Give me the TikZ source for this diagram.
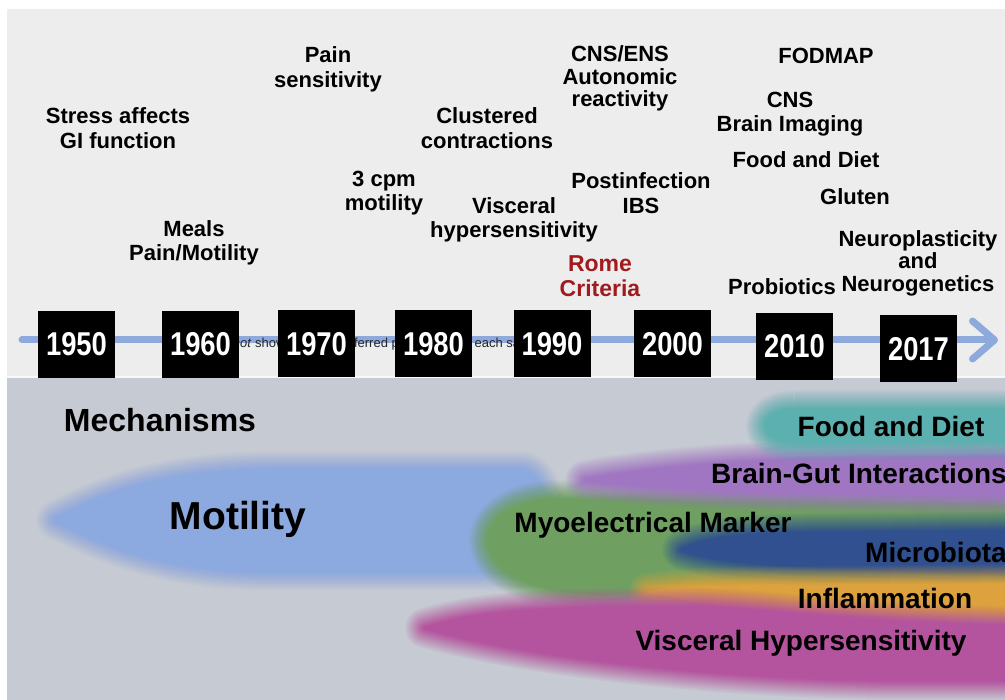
\documentclass[tikz,border=0pt]{standalone}
\usepackage{fontspec}
\setmainfont{Liberation Sans}
\newfontfamily\yearfont[FakeStretch=0.83]{Liberation Sans}
\usetikzlibrary{arrows.meta}

\definecolor{topbg}{HTML}{EDEDED}
\definecolor{lowbg}{HTML}{C6CAD3}
\definecolor{axisblue}{HTML}{8EAADC}
\definecolor{motblue}{HTML}{8CAAE0}
\definecolor{myogreen}{HTML}{6FA062}
\definecolor{bgpurple}{HTML}{A076C2}
\definecolor{foodteal}{HTML}{5DB0B0}
\definecolor{microblue}{HTML}{30508F}
\definecolor{inflorange}{HTML}{DDA23E}
\definecolor{vhmagenta}{HTML}{B5549E}
\definecolor{romered}{HTML}{A01A1E}

% Soft-edged band: 20 nested strokes whose opacities give a linear ramp
% over 20pt outside the outline, then the solid core.
\newcommand\softband[2]{%
  \foreach \w [count=\k] in {40,38,...,2}{%
    \pgfmathsetmacro\bandop{1/(21-\k)}%
    \draw[#1, line width=\w pt, opacity=\bandop, line join=round] #2;}%
  \fill[#1] #2;}

\tikzset{
  eventlbl/.style={font=\fontsize{22}{24.5}\selectfont\bfseries, align=center, text=black, inner sep=0pt},
  yearbox/.style={fill=black, text=white, minimum width=77pt, minimum height=67pt, inner sep=0pt,
                  font=\fontsize{33}{35}\selectfont\yearfont\bfseries},
  mechlbl/.style={font=\fontsize{28}{30}\selectfont\bfseries, text=black, inner sep=0pt},
  axisline/.style={axisblue, line width=7pt, line cap=round,
                   -{Straight Barb[length=22pt, width=38pt, round]}},
}

\begin{document}
\begin{tikzpicture}[x=1pt, y=-1pt]
\useasboundingbox (0,0) rectangle (1005,700);
\fill[white] (0,0) rectangle (1005,700);
\fill[topbg] (7,9) rectangle (1005,377);
\fill[lowbg] (7,377) rectangle (1005,700);
\draw[white!60!topbg, line width=1.5pt] (7,377) -- (1005,377);

% time axis
\coordinate (axis-start) at (22,340);
\coordinate (axis-end) at (998,340);
\draw[axisline] (axis-start) -- (axis-end);

\node[anchor=west, font=\fontsize{13}{14}\selectfont, text=black!85, inner sep=0pt] (sampletext)
  at (212.5,344) {Do \textit{not} showing their preferred proportions of each sample};

% decades
\node[yearbox] (y1950) at (76.5,344.5) {1950};
\node[yearbox] (y1960) at (200.5,344.5) {1960};
\node[yearbox] (y1970) at (316.5,344) {1970};
\node[yearbox] (y1980) at (433.5,344) {1980};
\node[yearbox] (y1990) at (552,344) {1990};
\node[yearbox] (y2000) at (672.5,344) {2000};
\node[yearbox] (y2010) at (794.5,346.5) {2010};
\node[yearbox] (y2017) at (918.5,349) {2017};

% milestones
\node[eventlbl] (stress) at (118,128) {Stress affects\\GI function};
\node[eventlbl] (meals) at (194,243) {Meals\\Pain/Motility};
\node[eventlbl] (pain) at (328,69.5) {Pain\\sensitivity};
\node[eventlbl] (cpm) at (384,193) {3 cpm\\motility};
\node[eventlbl] (clustered) at (487,128) {Clustered\\contractions};
\node[eventlbl] (visceral) at (514,220) {Visceral\\hypersensitivity};
\node[eventlbl, font=\fontsize{22}{22.5}\selectfont\bfseries] (cnsens) at (620,78.5) {CNS/ENS\\Autonomic\\reactivity};
\node[eventlbl] (postinf) at (641,193) {Postinfection\\IBS};
\node[eventlbl, text=romered, font=\fontsize{23}{25}\selectfont\bfseries] (rome) at (600,276.5) {Rome\\Criteria};
\node[eventlbl] (fodmap) at (826,56) {FODMAP};
\node[eventlbl] (cns) at (790,114) {CNS\\Brain Imaging};
\node[eventlbl] (food) at (806,160) {Food and Diet};
\node[eventlbl] (gluten) at (855,197) {Gluten};
\node[eventlbl, font=\fontsize{22}{22.5}\selectfont\bfseries] (neuro) at (918,263) {Neuroplasticity\\and\\Neurogenetics};
\node[eventlbl] (probiotics) at (782,287) {Probiotics};

% mechanisms bands
\begin{scope}
\clip (7,377) rectangle (1005,700);
\softband{motblue}{(56,520) .. controls (115,490) and (170,472) .. (270,471) -- (520,471) .. controls (555,471) and (555,571) .. (520,571) -- (270,571) .. controls (170,570) and (115,549) .. cycle}
\softband{myogreen}{(560,500) -- (1040,505) -- (1040,578) -- (610,593) .. controls (458,596) and (458,500) .. (560,500)}
\softband{bgpurple}{(585,480) .. controls (650,468) and (750,460) .. (850,459) -- (1040,457) -- (1040,496) -- (850,493) .. controls (750,492) and (650,488) .. cycle}
\softband{foodteal}{(795,410) -- (1040,410) -- (1040,440) -- (795,442) .. controls (756,442) and (756,410) .. (795,410)}
\softband{microblue}{(682,550) .. controls (708,536) and (760,533) .. (840,533) -- (1040,531) -- (1040,572) -- (840,567) .. controls (760,565) and (708,559) .. cycle}
\softband{inflorange}{(648,592) .. controls (690,586) and (740,586) .. (800,586) -- (1040,584) -- (1040,615) -- (800,615) .. controls (740,613) and (690,598) .. cycle}
\softband{vhmagenta}{(425,628) .. controls (480,610) and (560,607) .. (680,607) .. controls (760,607) and (820,622) .. (1040,627) -- (1040,680) -- (880,680) .. controls (700,677) and (520,655) .. cycle}

\node[mechlbl, font=\fontsize{32}{34}\selectfont\bfseries] (mech) at (160,420) {Mechanisms};
\node[mechlbl, font=\fontsize{39}{41}\selectfont\bfseries] (motility) at (238,519) {Motility};
\node[mechlbl] (fooddiet) at (891,426) {Food and Diet};
\node[mechlbl, anchor=west] (braingut) at (711,473) {Brain-Gut Interactions};
\node[mechlbl] (myo) at (653,525) {Myoelectrical Marker};
\node[mechlbl, anchor=west] (microbiota) at (865,552) {Microbiota};
\node[mechlbl] (inflammation) at (885,598) {Inflammation};
\node[mechlbl] (vh) at (801,643) {Visceral Hypersensitivity};
\end{scope}
\end{tikzpicture}
\end{document}
